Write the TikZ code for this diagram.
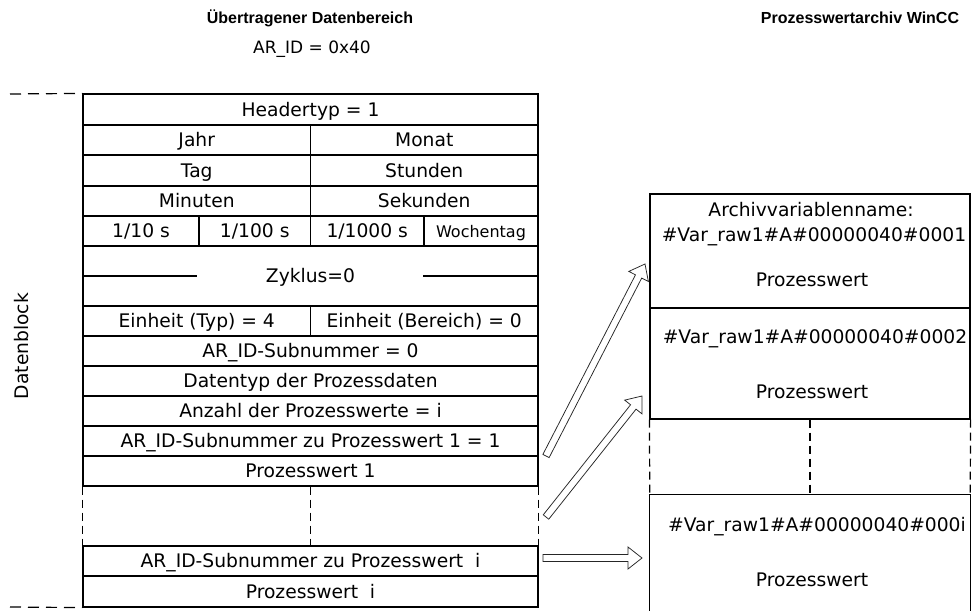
\documentclass[tikz,border=0pt]{standalone}
\usepackage{fontspec}
\setmainfont{DejaVu Sans}
\newfontfamily\titlefont{Liberation Sans}
\usetikzlibrary{calc}
\newcommand\cell[6]{\node[cell, minimum width={#4pt-#2pt}, minimum height={#5pt-#3pt}] (#1) at ({(#2+#4)/2},{(#3+#5)/2}) {#6};}
\newcommand\hollowarrow[2]{%
  \coordinate (hb) at ($(#2)!14pt!(#1)$);
  \draw[harrow] ($(#1)!3.5pt!90:(#2)$) -- ($(hb)!3.5pt!90:(#2)$) -- ($(hb)!11pt!90:(#2)$) -- (#2)
     -- ($(hb)!11pt!-90:(#2)$) -- ($(hb)!3.5pt!-90:(#2)$) -- ($(#1)!3.5pt!-90:(#2)$) -- cycle;}
\begin{document}
\begin{tikzpicture}[x=1pt,y=-1pt,
  txt/.style={inner sep=0pt, text height=13.5pt, text depth=0pt, font=\fontsize{18.7}{21}\selectfont},
  cell/.style={txt, draw, line width=1.2pt},
  tbl/.style={line width=1.2pt},
  gap/.style={line width=1.2pt, dash pattern=on 8pt off 5pt},
  ldash/.style={line width=1.2pt, dash pattern=on 11pt off 7pt},
  harrow/.style={line width=0.75pt, draw=black!85, fill=white},
  ttl/.style={inner sep=0pt, font={\titlefont\bfseries\fontsize{16}{18}\selectfont}}]
\useasboundingbox (0,0) rectangle (976,610);
\fill[white] (0,0) rectangle (976,610);

% titles
\node[ttl] (t1) at (310,18) {Übertragener Datenbereich};
\node[ttl] (t2) at (860,18) {Prozesswertarchiv WinCC};
\node[txt, font=\fontsize{17}{19}\selectfont] (arid) at (312,47) {AR\_ID = 0x40};

% table
\cell{hdr}{83}{94}{538}{125}{Headertyp = 1}
\cell{jahr}{83}{125}{310.5}{155}{Jahr}
\cell{monat}{310.5}{125}{538}{155}{Monat}
\cell{tag}{83}{155}{310.5}{186}{Tag}
\cell{std}{310.5}{155}{538}{186}{Stunden}
\cell{min}{83}{186}{310.5}{216}{Minuten}
\cell{sek}{310.5}{186}{538}{216}{Sekunden}
\cell{ms1}{83}{216}{199}{246}{1/10 s}
\cell{ms2}{199}{216}{310.5}{246}{1/100 s}
\cell{ms3}{310.5}{216}{424}{246}{1/1000 s}
\cell{wt}{424}{216}{538}{246}{\fontsize{16}{18}\selectfont Wochentag}
\cell{zyk}{83}{246}{538}{306}{Zyklus=0}
\coordinate (zl) at (197,276);
\coordinate (zr) at (423,276);
\draw[tbl] (zyk.west) -- (zl);
\draw[tbl] (zr) -- (zyk.east);
\cell{eT}{83}{306}{310.5}{336}{Einheit (Typ) = 4}
\cell{eB}{310.5}{306}{538}{336}{Einheit (Bereich) = 0}
\cell{sub0}{83}{336}{538}{366}{AR\_ID-Subnummer = 0}
\cell{dtyp}{83}{366}{538}{396}{Datentyp der Prozessdaten}
\cell{anz}{83}{396}{538}{426}{Anzahl der Prozesswerte = i}
\cell{sub1}{83}{426}{538}{456}{AR\_ID-Subnummer zu Prozesswert 1 = 1}
\cell{pw1}{83}{456}{538}{486}{Prozesswert 1}
\cell{subi}{83}{546}{538}{576}{AR\_ID-Subnummer zu Prozesswert\ \ i}
\cell{pwi}{83}{576}{538}{607}{Prozesswert\ \ i}

\draw[gap] (pw1.south west) -- (subi.north west);
\draw[gap] (pw1.south) -- (subi.north);
\draw[gap] (pw1.south east) -- (subi.north east);

\coordinate (dl1) at (10,94);
\coordinate (dl2) at (10,607);
\draw[ldash] (dl1) -- (hdr.north west);
\draw[ldash] (dl2) -- (pwi.south west);

\node[txt, rotate=90] (db) at (22,346) {Datenblock};

% archive boxes
\node[draw, line width=1.2pt, minimum width=320pt, minimum height=114pt, inner sep=0pt] (b1) at (810,251) {};
\node[draw, line width=1.2pt, minimum width=320pt, minimum height=111pt, inner sep=0pt] (b2) at (810,363.5) {};
\node[minimum width=320pt, minimum height=117pt, inner sep=0pt] (b3) at (810,553.5) {};
\draw[tbl] (b3.south west) |- (b3.north east) -- (b3.south east);
\draw[gap] (b2.south west) -- (b3.north west);
\draw[gap] (b2.south) -- (b3.north);
\draw[gap] (b2.south east) -- (b3.north east);

\node[txt] (b1a) at (811,210) {Archivvariablenname:};
\node[txt] (b1b) at (814,235) {\#Var\_raw1\#A\#00000040\#0001};
\node[txt] (b1c) at (812,280) {Prozesswert};
\node[txt] (b2a) at (815,337) {\#Var\_raw1\#A\#00000040\#0002};
\node[txt] (b2c) at (812,392) {Prozesswert};
\node[txt] (b3a) at (817,525) {\#Var\_raw1\#A\#00000040\#000i};
\node[txt] (b3c) at (812,580) {Prozesswert};

% arrows
\coordinate (a1s) at (546,456);
\coordinate (a1t) at (645,264);
\coordinate (a2s) at (546,517);
\coordinate (a2t) at (642,396);
\coordinate (a3s) at (543,558);
\coordinate (a3t) at (642,558);
\hollowarrow{a1s}{a1t}
\hollowarrow{a2s}{a2t}
\hollowarrow{a3s}{a3t}
\end{tikzpicture}
\end{document}
